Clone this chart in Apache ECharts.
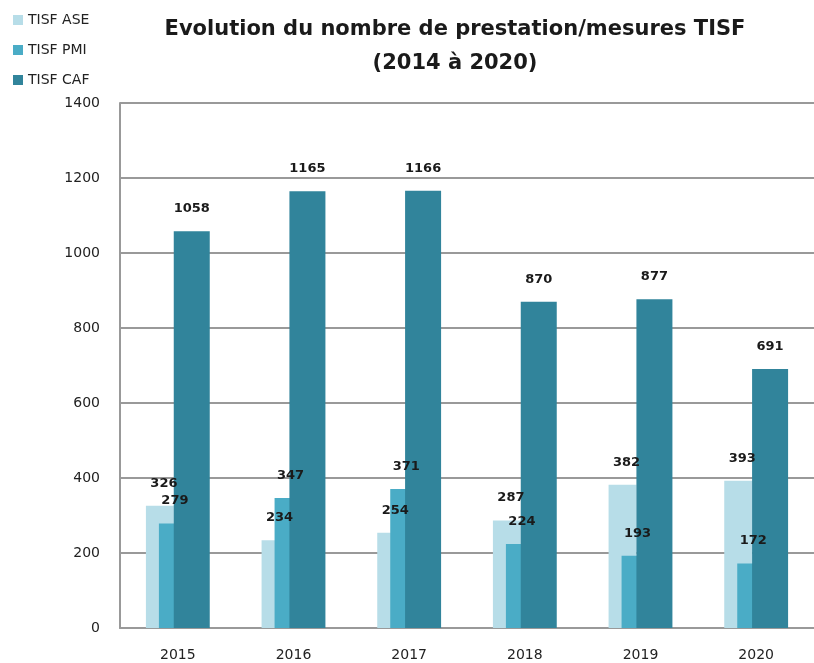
<!DOCTYPE html>
<html lang="fr">
<head>
    <meta charset="UTF-8">
    <title>Evolution TISF</title>
    <script src="https://cdn.jsdelivr.net/npm/echarts@6.0.0/dist/echarts.min.js"></script>
    <style>
        body { margin: 0; background: #fff; }
    </style>
</head>
<body>
    <div id="main" style="width: 814px;height:663px;"></div>

    <script type="text/javascript">
        // Data
        const years = ['2015', '2016', '2017', '2018', '2019', '2020'];
        const tisfAse = [326, 234, 254, 287, 382, 393];
        const tisfPmi = [279, 347, 371, 224, 193, 172];
        const tisfCaf = [1058, 1165, 1166, 870, 877, 691];

        const font = '"DejaVu Sans", sans-serif';

        let myChart = echarts.init(document.getElementById('main'));

        // shared label style for values above bars
        function valueLabel(offset) {
            return {
                show: true,
                position: 'top',
                distance: 16,
                offset: offset || [0, 0],
                color: '#1a1a1a',
                fontFamily: font,
                fontWeight: 'bold',
                fontSize: 13
            };
        }

        let options = {
            animation: false,
            title: {
                text: 'Evolution du nombre de prestation/mesures TISF\n(2014 à 2020)',
                left: 450,
                top: 8,
                textAlign: 'center',
                textStyle: {
                    fontFamily: font,
                    fontWeight: 'bold',
                    fontSize: 21,
                    lineHeight: 34,
                    color: '#1a1a1a'
                }
            },
            legend: {
                orient: 'vertical',
                left: 8,
                top: 8,
                itemWidth: 10,
                itemHeight: 10,
                itemGap: 16,
                icon: 'rect',
                textStyle: {
                    fontFamily: font,
                    fontSize: 14,
                    color: '#222'
                }
            },
            grid: { left: 120, right: 0, top: 103, bottom: 35 },
            xAxis: {
                type: 'category',
                data: years,
                axisTick: { show: false },
                axisLine: { lineStyle: { color: '#999', width: 2 } },
                axisLabel: {
                    margin: 20,
                    color: '#222',
                    fontFamily: font,
                    fontSize: 14
                }
            },
            yAxis: {
                type: 'value',
                min: 0,
                max: 1400,
                interval: 200,
                axisLine: { show: true, lineStyle: { color: '#999', width: 2 } },
                axisTick: { show: false },
                splitLine: { lineStyle: { color: '#999', width: 2 } },
                axisLabel: {
                    margin: 20,
                    color: '#222',
                    fontFamily: font,
                    fontSize: 14,
                    formatter: function (v) { return String(v); }
                }
            },
            series: [
                {
                    name: 'TISF ASE',
                    type: 'bar',
                    data: tisfAse,
                    barWidth: 28,
                    barGap: '-53.6%',
                    itemStyle: { color: '#b7dde8' },
                    label: valueLabel([4, 0])
                },
                {
                    name: 'TISF PMI',
                    type: 'bar',
                    data: tisfPmi,
                    barWidth: 32,
                    barGap: '-53.6%',
                    itemStyle: { color: '#4aacc6' },
                    label: valueLabel()
                },
                {
                    name: 'TISF CAF',
                    type: 'bar',
                    data: tisfCaf,
                    barWidth: 36,
                    barGap: '-53.6%',
                    itemStyle: { color: '#31849b' },
                    label: valueLabel()
                }
            ]
        };

        myChart.setOption(options);
    </script>
</body>
</html>
